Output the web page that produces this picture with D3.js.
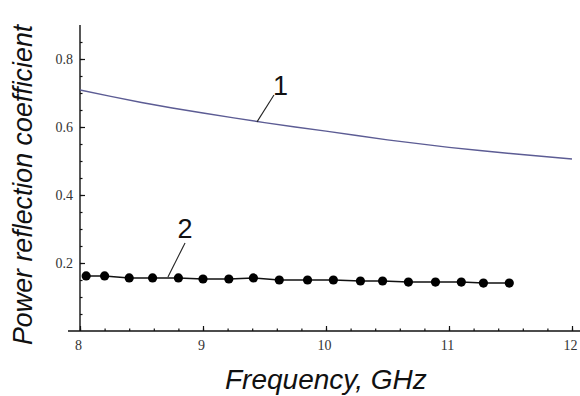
<!DOCTYPE html>
<html>
<head>
<meta charset="utf-8">
<script src="https://cdn.jsdelivr.net/npm/d3@7"></script>
<style>
  body { margin: 0; background: #fff; }
  svg { display: block; }
</style>
</head>
<body>
<script>
// curve 1 (theory)
const freq1 = [8.0, 8.25, 8.5, 8.75, 9.0, 9.25, 9.5, 9.75, 10.0, 10.25, 10.5, 10.75, 11.0, 11.25, 11.5, 11.75, 12.0]
const refl1 = [0.709, 0.690, 0.672, 0.656, 0.641, 0.627, 0.613, 0.600, 0.588, 0.575, 0.562, 0.551, 0.540, 0.531, 0.522, 0.514, 0.506]

// curve 2 (measured points)
const freq2 = [8.05, 8.2, 8.4, 8.59, 8.8, 9.0, 9.21, 9.41, 9.62, 9.85, 10.06, 10.28, 10.46, 10.67, 10.89, 11.1, 11.28, 11.49]
const refl2 = [0.162, 0.162, 0.156, 0.156, 0.156, 0.153, 0.153, 0.156, 0.150, 0.150, 0.150, 0.147, 0.147, 0.144, 0.144, 0.144, 0.141, 0.141]

const xTicks = [8, 9, 10, 11, 12]
const yTicks = [0.2, 0.4, 0.6, 0.8]

// curve labels: text position + leader line ends (data units)
const labels = [
    { text: '1', x: 9.63, y: 0.694, x1: 9.577, y1: 0.694, x2: 9.439, y2: 0.615 },
    { text: '2', x: 8.854, y: 0.274, x1: 8.854, y1: 0.259, x2: 8.715, y2: 0.159 }
]

const W = 580, H = 396
const x = d3.scaleLinear().domain([8, 12]).range([80, 572])
const y = d3.scaleLinear().domain([0, 0.9]).range([331, 25])

const svg = d3.select('body').append('svg')
    .attr('width', W).attr('height', H)

// minor ticks
svg.append('g')
    .attr('transform', `translate(0, ${y(0)})`)
    .call(d3.axisBottom(x).tickValues(d3.range(8, 12.01, 0.2)).tickSizeInner(-2.5).tickSizeOuter(0).tickFormat(''))
    .call(g => g.select('.domain').remove())
svg.append('g')
    .attr('transform', `translate(${x(8)}, 0)`)
    .call(d3.axisLeft(y).tickValues(d3.range(0.05, 0.9, 0.05)).tickSizeInner(-2.5).tickSizeOuter(0).tickFormat(''))
    .call(g => g.select('.domain').remove())

// major ticks with labels
const xa = svg.append('g')
    .attr('transform', `translate(0, ${y(0)})`)
    .call(d3.axisBottom(x).tickValues(xTicks).tickSizeInner(-5).tickSizeOuter(0).tickPadding(9).tickFormat(d3.format('d')))
xa.select('.domain').remove()
xa.selectAll('.tick text').attr('dx', -2)
const ya = svg.append('g')
    .attr('transform', `translate(${x(8)}, 0)`)
    .call(d3.axisLeft(y).tickValues(yTicks).tickSizeInner(-5).tickSizeOuter(0).tickPadding(7).tickFormat(d3.format('.1f')))
ya.select('.domain').remove()

svg.selectAll('.tick line').attr('stroke', '#111').attr('stroke-width', 1.2)
svg.selectAll('.tick text')
    .attr('font-family', '"Liberation Serif", "DejaVu Serif", serif')
    .attr('font-size', 14)
    .attr('fill', '#333')

// axis lines
svg.append('line')
    .attr('x1', x(8) - 12).attr('x2', W)
    .attr('y1', y(0)).attr('y2', y(0))
    .attr('stroke', '#111').attr('stroke-width', 1.4)
svg.append('line')
    .attr('x1', x(8)).attr('x2', x(8))
    .attr('y1', y(0.9)).attr('y2', y(0))
    .attr('stroke', '#111').attr('stroke-width', 1.4)

// curve 1
const pts1 = freq1.map((f, i) => [f, refl1[i]])
svg.append('path')
    .datum(pts1)
    .attr('fill', 'none')
    .attr('stroke', '#5c5c94')
    .attr('stroke-width', 1.4)
    .attr('d', d3.line().x(d => x(d[0])).y(d => y(d[1])))

// curve 2
const pts2 = freq2.map((f, i) => [f, refl2[i]])
svg.append('path')
    .datum(pts2)
    .attr('fill', 'none')
    .attr('stroke', '#111')
    .attr('stroke-width', 1.5)
    .attr('d', d3.line().x(d => x(d[0])).y(d => y(d[1])))
svg.selectAll('circle.pt')
    .data(pts2)
    .join('circle')
    .attr('class', 'pt')
    .attr('cx', d => x(d[0]))
    .attr('cy', d => y(d[1]))
    .attr('r', 4.6)
    .attr('fill', '#000')

// curve labels
svg.selectAll('line.leader')
    .data(labels)
    .join('line')
    .attr('class', 'leader')
    .attr('x1', d => x(d.x1)).attr('y1', d => y(d.y1))
    .attr('x2', d => x(d.x2)).attr('y2', d => y(d.y2))
    .attr('stroke', '#222').attr('stroke-width', 1.1)
svg.selectAll('text.lbl')
    .data(labels)
    .join('text')
    .attr('class', 'lbl')
    .attr('x', d => x(d.x)).attr('y', d => y(d.y))
    .attr('text-anchor', 'middle')
    .attr('font-family', '"Liberation Sans", Arial, sans-serif')
    .attr('font-size', 27)
    .attr('fill', '#111')
    .text(d => d.text)

// axis titles
svg.append('text')
    .attr('transform', `translate(32, 345) rotate(-90)`)
    .attr('font-family', '"Liberation Sans", Arial, sans-serif')
    .attr('font-style', 'italic')
    .attr('font-size', 26.8)
    .attr('fill', '#111')
    .text('Power reflection coefficient')

svg.append('text')
    .attr('x', 225).attr('y', 389)
    .attr('font-family', '"Liberation Sans", Arial, sans-serif')
    .attr('font-style', 'italic')
    .attr('font-size', 28)
    .attr('fill', '#111')
    .text('Frequency, GHz')
</script>
</body>
</html>
